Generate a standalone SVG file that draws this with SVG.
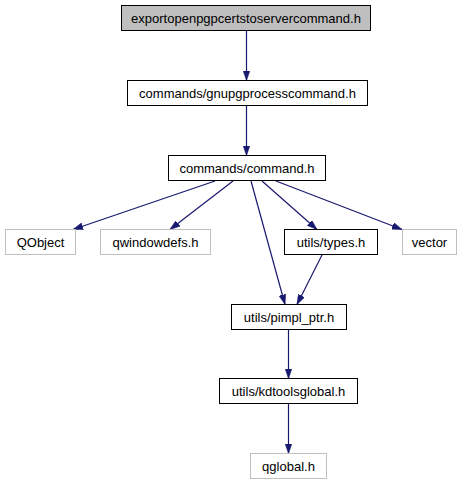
<svg xmlns="http://www.w3.org/2000/svg" width="466" height="485" viewBox="0 0 466 485">
<style>
.n rect{fill:#ffffff;stroke:#000000;stroke-width:1}
.n.g rect{stroke:#bfbfbf}
.n.cur rect{fill:#bfbfbf}
.n text{font-family:"Liberation Sans",Arial,sans-serif;font-size:13px;fill:#000000;text-anchor:middle}
.e path{fill:none;stroke:#191970;stroke-width:1.2;marker-end:url(#ah)}
</style>
<defs>
<marker id="ah" viewBox="0 0 10 7" refX="10" refY="3.5" markerWidth="10" markerHeight="7" markerUnits="userSpaceOnUse" orient="auto">
<path d="M0,0 L10,3.5 L0,7 Z" fill="#191970" stroke="#191970" stroke-width="0.5"/>
</marker>
</defs>
<g id="edges" class="e">
<path d="M246.5,31 L246.5,80.5"/>
<path d="M246.5,106 L246.5,155.5"/>
<path d="M215,181 L73,229.5"/>
<path d="M233,181 L170,229.5"/>
<path d="M251,181 L285,304.5"/>
<path d="M262,181 L317,229.5"/>
<path d="M276,181 L402,229.5"/>
<path d="M322,255 L297,304.5"/>
<path d="M288.5,330 L288.5,378.5"/>
<path d="M288.5,404 L288.5,453.5"/>
</g>
<g id="node1" class="n cur"><rect x="121.5" y="5.5" width="249" height="25"/><text x="246" y="22.5">exportopenpgpcertstoservercommand.h</text></g>
<g id="node2" class="n"><rect x="127.5" y="80.5" width="240" height="25"/><text x="247.5" y="97.5">commands/gnupgprocesscommand.h</text></g>
<g id="node3" class="n"><rect x="168.5" y="155.5" width="157" height="25"/><text x="247" y="172.5">commands/command.h</text></g>
<g id="node4" class="n g"><rect x="5.5" y="229.5" width="70" height="25"/><text x="40.5" y="246.5">QObject</text></g>
<g id="node5" class="n g"><rect x="100.5" y="229.5" width="110" height="25"/><text x="155.5" y="246.5">qwindowdefs.h</text></g>
<g id="node6" class="n"><rect x="284.5" y="229.5" width="93" height="25"/><text x="331" y="246.5">utils/types.h</text></g>
<g id="node7" class="n g"><rect x="402.5" y="229.5" width="54" height="25"/><text x="429.5" y="246.5">vector</text></g>
<g id="node8" class="n"><rect x="231.5" y="304.5" width="115" height="25"/><text x="289" y="321.5">utils/pimpl_ptr.h</text></g>
<g id="node9" class="n"><rect x="219.5" y="378.5" width="138" height="25"/><text x="288.5" y="395.5">utils/kdtoolsglobal.h</text></g>
<g id="node10" class="n g"><rect x="250.5" y="453.5" width="76" height="25"/><text x="288.5" y="470.5">qglobal.h</text></g>
</svg>
